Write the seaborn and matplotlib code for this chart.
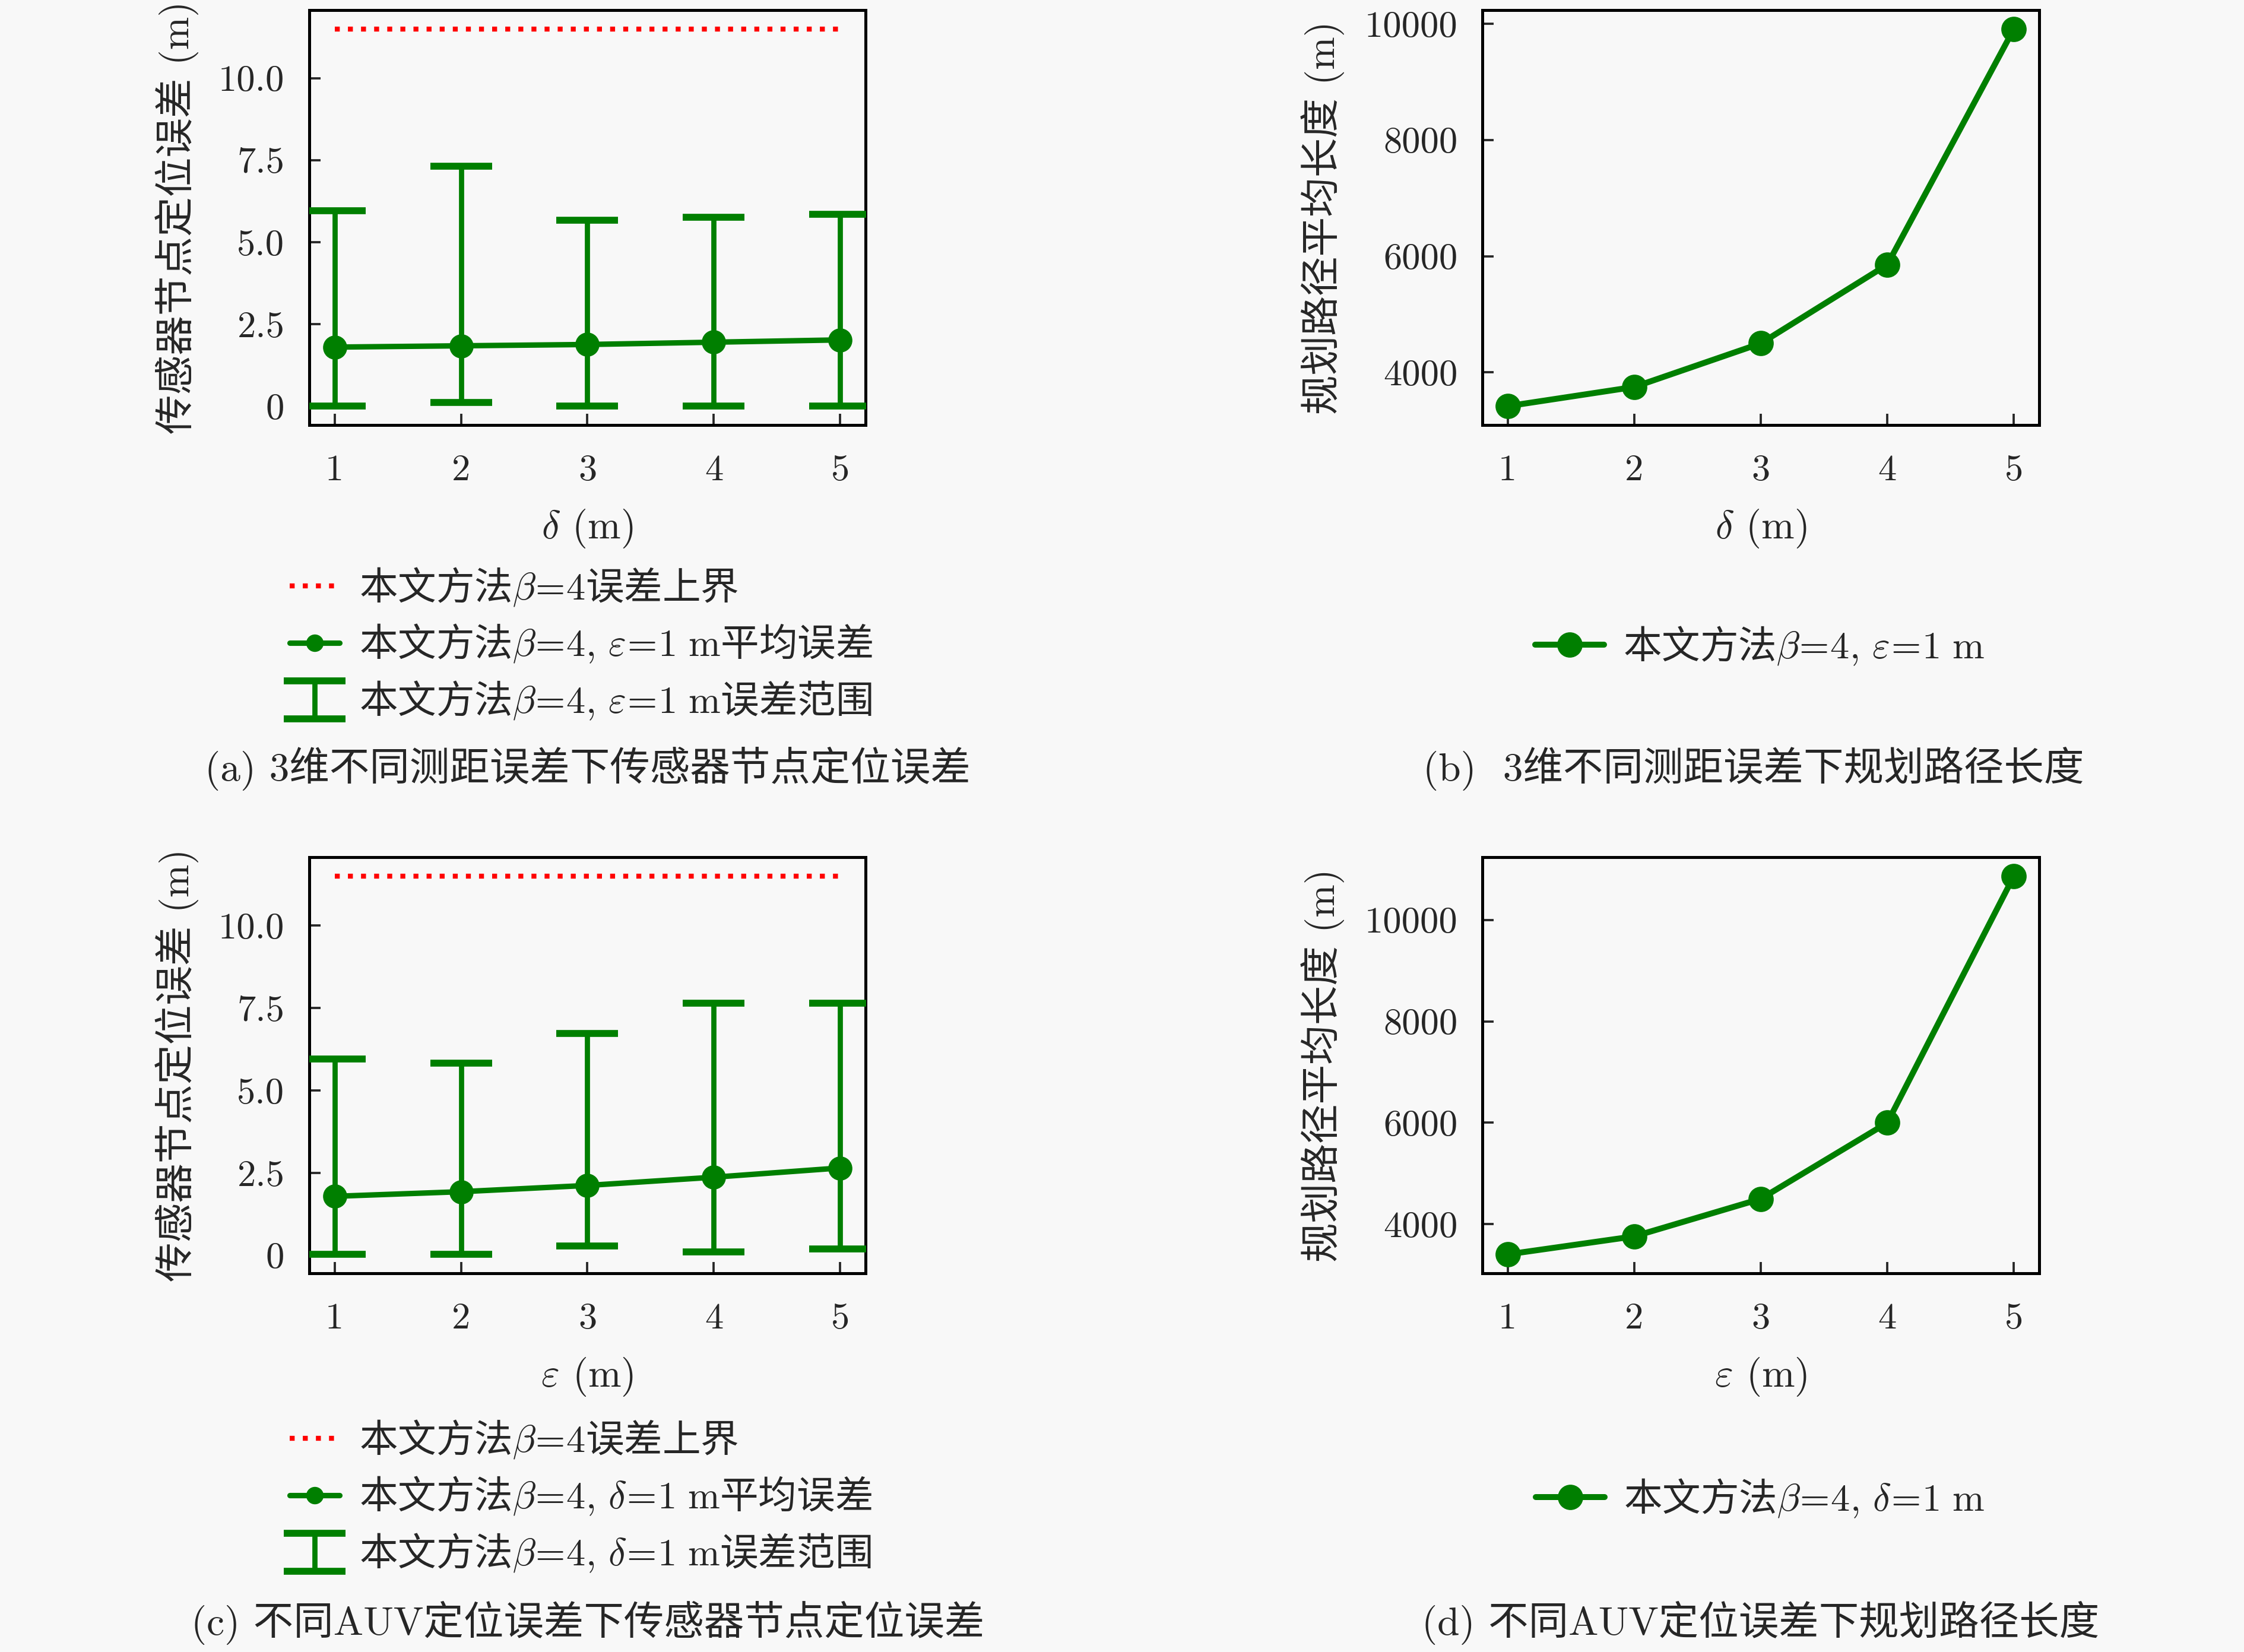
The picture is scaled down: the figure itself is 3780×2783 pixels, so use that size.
import numpy as np
import matplotlib
matplotlib.use("Agg")
import matplotlib.pyplot as plt
import seaborn as sns

# ---- data ----
steps = [1, 2, 3, 4, 5]
bound_err = 11.5  # 本文方法 beta=4 误差上界

# (a) ranging error delta
mean_a = [1.80, 1.84, 1.88, 1.95, 2.02]
low_a = [0.0, 0.11, 0.0, 0.0, 0.0]
high_a = [5.96, 7.32, 5.67, 5.76, 5.85]
path_b = [3420, 3750, 4500, 5855, 9910]

# (c) AUV positioning error epsilon
mean_c = [1.79, 1.93, 2.12, 2.37, 2.65]
low_c = [0.03, 0.03, 0.28, 0.10, 0.20]
high_c = [5.96, 5.83, 6.73, 7.65, 7.65]
path_d = [3405, 3760, 4500, 6000, 10865]

err_ticks = [0, 2.5, 5.0, 7.5, 10.0]
err_ticklabels = ["0", "2.5", "5.0", "7.5", "10.0"]
path_ticks_b = [4000, 6000, 8000, 10000]
path_ticks_d = [4000, 6000, 8000, 10000]

GREEN = "#007f00"
BG = "#f8f8f8"

sns.set_style("ticks")
plt.rcParams["font.family"] = ["cmr10", "Noto Sans CJK SC"]
plt.rcParams["mathtext.fontset"] = "cm"
plt.rcParams["axes.formatter.use_mathtext"] = True
plt.rcParams["axes.unicode_minus"] = False

fig = plt.figure(figsize=(12.6, 9.2767), dpi=300, facecolor=BG)
W, H = 3780, 2783

# legend text: CJK parts in Noto (the default font of the string), latin in math/cm
LEG_PROP = {"family": "Noto Sans CJK SC", "size": 15.5}
B4 = r"$\beta\!=\!4$"


def cond(sym):
    return r"$\beta\!=\!4,\," + sym + r"\!=\!1\ \mathrm{m}$"


def make_ax(l, r, t, b):
    ax = fig.add_axes([l / W, 1 - b / H, (r - l) / W, (b - t) / H])
    ax.set_facecolor(BG)
    for s in ax.spines.values():
        s.set_linewidth(1.2)
        s.set_color("black")
    ax.tick_params(direction="in", length=4.5, width=0.9, labelsize=15,
                   top=False, right=False)
    ax.tick_params(axis="x", pad=12)
    ax.tick_params(axis="y", pad=10)
    ax.set_xticks(steps)
    ax.set_xticklabels([str(s) for s in steps])
    return ax


def err_panel(ax, mean, low, high, xlab):
    bound, = ax.plot(steps, [bound_err] * len(steps), color="red",
                     linestyle=":", lw=2.0, zorder=2)
    yerr = [np.array(mean) - np.array(low), np.array(high) - np.array(mean)]
    eb = ax.errorbar(steps, mean, yerr=yerr, fmt="none", ecolor=GREEN,
                     elinewidth=2.1, capsize=12.5, capthick=2.8, zorder=3)
    sns.lineplot(x=steps, y=mean, ax=ax, color=GREEN, marker="o", lw=2.2,
                 markersize=9, markeredgecolor=GREEN, zorder=4)
    line = ax.get_lines()[-1]
    ax.set_yticks(err_ticks)
    ax.set_yticklabels(err_ticklabels)
    ax.set_xlabel(xlab, fontsize=16, labelpad=8)
    ax.set_ylabel("传感器节点定位误差 (m)", fontsize=16, labelpad=8)
    if ax.get_legend():
        ax.get_legend().remove()
    return [bound, line, eb]


def path_panel(ax, path, ticks, xlab):
    sns.lineplot(x=steps, y=path, ax=ax, color=GREEN, marker="o", lw=2.4,
                 markersize=9.5, markeredgecolor=GREEN)
    ax.set_yticks(ticks)
    ax.set_yticklabels([str(t) for t in ticks])
    ax.set_xlabel(xlab, fontsize=16, labelpad=8)
    ax.set_ylabel("规划路径平均长度 (m)", fontsize=16, labelpad=8)
    return ax.get_lines()[-1]


# (a)
ax_a = make_ax(521, 1458, 17, 716)
h = err_panel(ax_a, mean_a, low_a, high_a, r"$\delta$ (m)")
labels_a = ["本文方法" + B4 + "误差上界",
            "本文方法" + cond(r"\varepsilon") + "平均误差",
            "本文方法" + cond(r"\varepsilon") + "误差范围"]
fig.legend(h, labels_a, loc="center left", bbox_to_anchor=(456 / W, 1 - 1085 / H),
           frameon=False, prop=LEG_PROP, handlelength=1.3, handletextpad=0.5,
           labelspacing=0.38, borderpad=0, markerscale=0.7)
fig.text(990 / W, 1 - 1295 / H, "(a) 3维不同测距误差下传感器节点定位误差",
         ha="center", va="center", fontsize=16.2)

# (b)
ax_b = make_ax(2497, 3435, 17, 716)
lb = path_panel(ax_b, path_b, path_ticks_b, r"$\delta$ (m)")
fig.legend([lb], ["本文方法" + cond(r"\varepsilon")], loc="center",
           bbox_to_anchor=(2965 / W, 1 - 1088 / H), frameon=False,
           prop=LEG_PROP, handlelength=1.8, handletextpad=0.5, borderpad=0)
fig.text(2954 / W, 1 - 1295 / H, "(b)  3维不同测距误差下规划路径长度",
         ha="center", va="center", fontsize=16.2)

# (c)
ax_c = make_ax(521, 1458, 1444, 2145)
h = err_panel(ax_c, mean_c, low_c, high_c, r"$\varepsilon$ (m)")
labels_c = ["本文方法" + B4 + "误差上界",
            "本文方法" + cond(r"\delta") + "平均误差",
            "本文方法" + cond(r"\delta") + "误差范围"]
fig.legend(h, labels_c, loc="center left", bbox_to_anchor=(456 / W, 1 - 2521 / H),
           frameon=False, prop=LEG_PROP, handlelength=1.3, handletextpad=0.5,
           labelspacing=0.38, borderpad=0, markerscale=0.7)
fig.text(990 / W, 1 - 2734 / H, "(c) 不同AUV定位误差下传感器节点定位误差",
         ha="center", va="center", fontsize=16.2)

# (d)
ax_d = make_ax(2497, 3435, 1444, 2145)
ld = path_panel(ax_d, path_d, path_ticks_d, r"$\varepsilon$ (m)")
fig.legend([ld], ["本文方法" + cond(r"\delta")], loc="center",
           bbox_to_anchor=(2965 / W, 1 - 2524 / H), frameon=False,
           prop=LEG_PROP, handlelength=1.8, handletextpad=0.5, borderpad=0)
fig.text(2966 / W, 1 - 2734 / H, "(d) 不同AUV定位误差下规划路径长度",
         ha="center", va="center", fontsize=16.2)

fig.savefig("out.png", dpi=300, facecolor=BG)
